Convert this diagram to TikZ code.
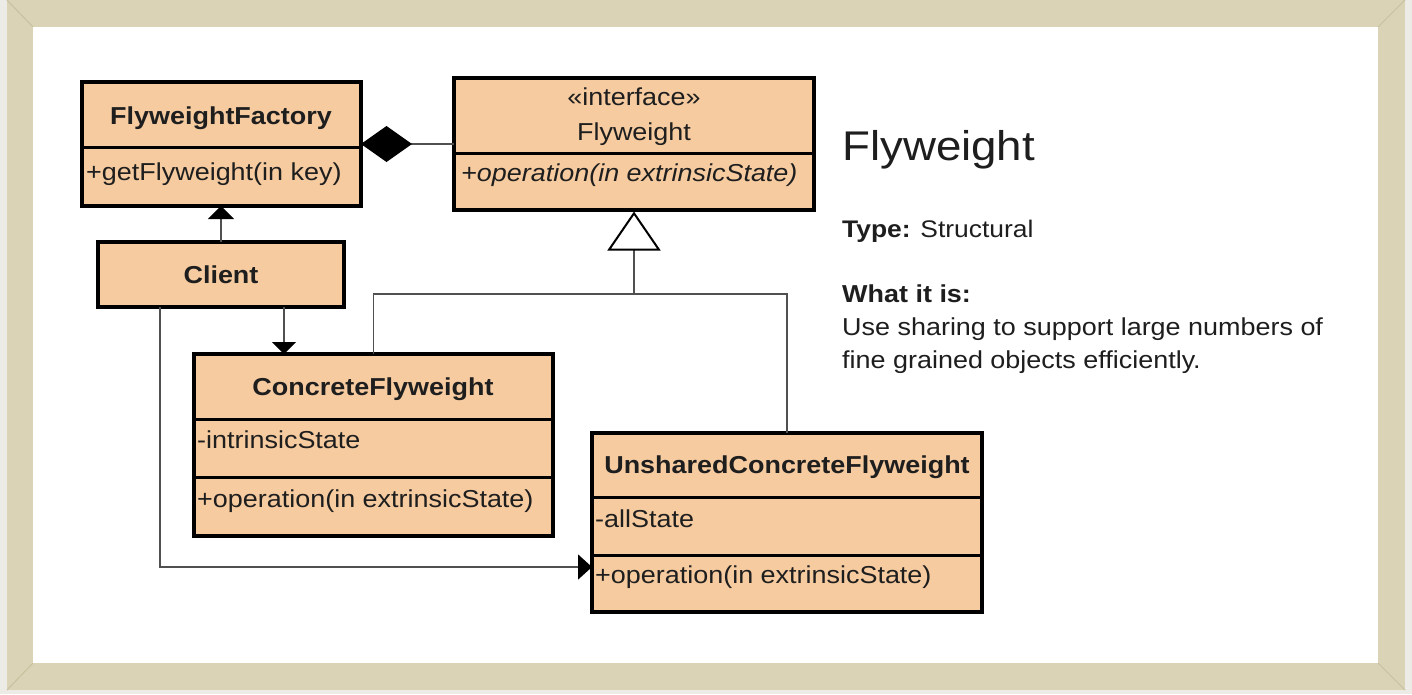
\documentclass[tikz,border=0pt]{standalone}
\usepackage{fontspec}
\setmainfont[FakeStretch=1.1]{Liberation Sans}
\usetikzlibrary{arrows.meta}
\definecolor{peach}{HTML}{F6CBA0}
\definecolor{framecol}{HTML}{DBD3B5}
\definecolor{framedark}{HTML}{C9C0A0}
\definecolor{outercol}{HTML}{ECEBE6}
\definecolor{conn}{HTML}{505050}
\definecolor{txt}{HTML}{1E1E1E}
\tikzset{
  umlbox/.style={draw=black, line width=3.5pt, fill=peach, inner sep=0pt, outer sep=0pt, anchor=north west},
  divider/.style={draw=black, line width=3pt},
  lbl/.style={inner sep=0pt, text=txt, font=\fontsize{24.5pt}{29pt}\selectfont},
  conline/.style={draw=conn, line width=1.5pt},
}
\begin{document}
\begin{tikzpicture}[x=1pt,y=-1pt]
\useasboundingbox (0,0) rectangle (1412,694);
% frame
\fill[outercol] (0,0) rectangle (1412,694);
\fill[framecol] (7,0) rectangle (1405,690);
\fill[white] (33,27) rectangle (1378,663);
\draw[framedark, line width=1pt] (7,0)--(33,27) (1405,0)--(1378,27) (7,690)--(33,663) (1405,690)--(1378,663);

% boxes
\node[umlbox, minimum width=279pt, minimum height=124pt] (ff) at (82,82) {};
\draw[divider] (ff.west |- 0,147) -- (ff.east |- 0,147);
\node[umlbox, minimum width=360pt, minimum height=132pt] (fw) at (454,78) {};
\draw[divider] (fw.west |- 0,153) -- (fw.east |- 0,153);
\node[umlbox, minimum width=246pt, minimum height=65pt] (client) at (98,242) {};
\node[umlbox, minimum width=359pt, minimum height=182pt] (cf) at (194,354) {};
\draw[divider] (cf.west |- 0,419) -- (cf.east |- 0,419);
\draw[divider] (cf.west |- 0,477) -- (cf.east |- 0,477);
\node[umlbox, minimum width=390pt, minimum height=179pt] (ucf) at (592,433) {};
\draw[divider] (ucf.west |- 0,497) -- (ucf.east |- 0,497);
\draw[divider] (ucf.west |- 0,555) -- (ucf.east |- 0,555);

% box texts
\node[lbl, anchor=base] (ffname) at (221,124) {\bfseries FlyweightFactory};
\node[lbl, anchor=base west] (ffop) at (86,180) {+getFlyweight(in key)};
\node[lbl, anchor=base] (fwst) at (634,105) {«interface»};
\node[lbl, anchor=base] (fwname) at (634,140) {Flyweight};
\node[lbl, anchor=base west] (fwop) at (461,181) {\itshape +operation(in extrinsicState)};
\node[lbl, anchor=base] (clname) at (221,283) {\bfseries Client};
\node[lbl, anchor=base] (cfname) at (373,395) {\bfseries ConcreteFlyweight};
\node[lbl, anchor=base west] (cfattr) at (197,448) {-intrinsicState};
\node[lbl, anchor=base west] (cfop) at (197,507) {+operation(in extrinsicState)};
\node[lbl, anchor=base] (ucfname) at (787,473) {\bfseries UnsharedConcreteFlyweight};
\node[lbl, anchor=base west] (ucfattr) at (595,527) {-allState};
\node[lbl, anchor=base west] (ucfop) at (595,583) {+operation(in extrinsicState)};

% connectors
\draw[conline, {Diamond[length=51pt,width=36pt,fill=black,color=black]}-] (ff.east) -- (fw.west);
\coordinate (j) at ([yshift=-84pt]fw.south);
\draw[conline, -{Triangle[length=39pt,width=53pt,fill=white,color=black,line width=2pt]}, shorten >=1.5pt] (j) -- (fw.south);
\draw[conline] (cf.north) |- (j);
\draw[conline] (ucf.north) |- (j);
\draw[conline, -{Triangle[length=13pt,width=26pt,fill=black,color=black]}] (client.north) -- (client.north |- ff.south);
\draw[conline, -{Triangle[length=12pt,width=24pt,fill=black,color=black]}] ([xshift=63pt]client.south) -- ([xshift=63pt]client.south |- cf.north);
\draw[conline, -{Triangle[length=14pt,width=25pt,fill=black,color=black]}] ([xshift=-61pt]client.south) |- ([yshift=-44.5pt]ucf.west);

% description
\node[lbl, anchor=base west, font=\fontsize{41.5pt}{48pt}\selectfont] (title) at (842,160) {Flyweight};
\node[lbl, anchor=base west, font=\fontsize{24pt}{29pt}\selectfont] (type) at (842,237) {\textbf{Type:} Structural};
\node[lbl, anchor=base west] (what) at (842,302) {\bfseries What it is:};
\node[lbl, anchor=base west] (desc1) at (842,335) {Use sharing to support large numbers of};
\node[lbl, anchor=base west] (desc2) at (842,368) {fine grained objects efficiently.};
\end{tikzpicture}
\end{document}
